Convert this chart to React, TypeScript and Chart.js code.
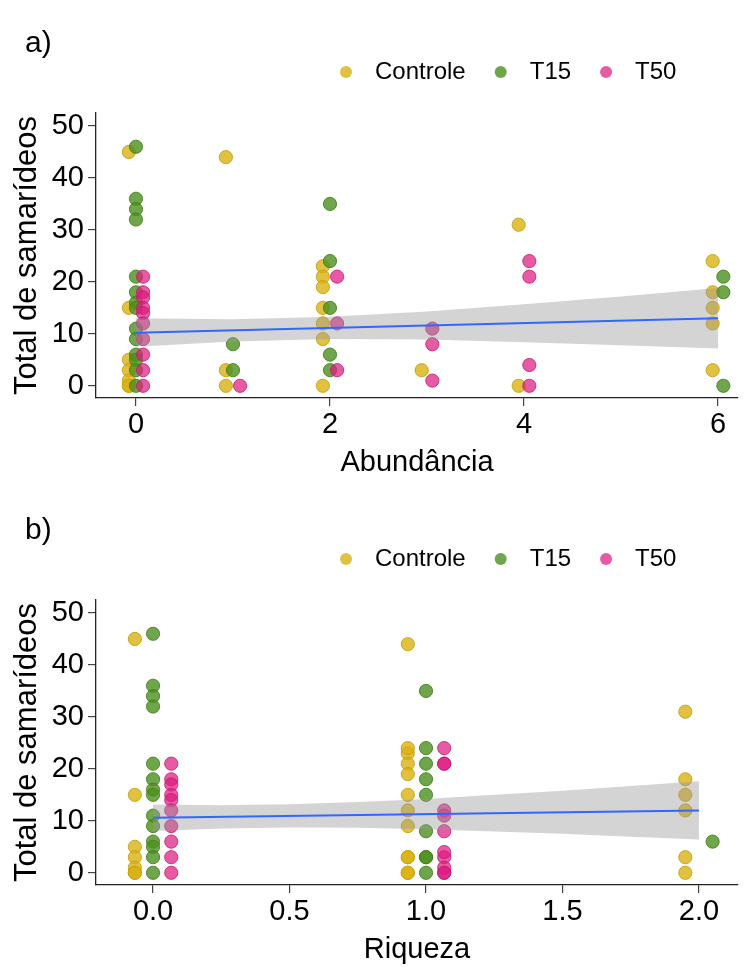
import React, { useEffect, useRef } from "react";
import { Chart, registerables } from "chart.js";

Chart.register(...registerables);

const FONT = "'Liberation Sans', Arial, Helvetica, sans-serif";

// ---------------- data ----------------
const treatments = ["Controle", "T15", "T50"];
const pointColors = ["rgba(218,178,18,0.8)", "rgba(76,144,30,0.8)", "rgba(220,28,128,0.72)"];
const pointBorders = ["rgba(198,158,10,0.85)", "rgba(62,126,22,0.85)", "rgba(198,22,112,0.8)"];

const controleAbundancia = [0, 0, 0, 0, 0, 0, 0, 1, 1, 1, 2, 2, 2, 2, 2, 2, 2, 3, 4, 4, 6, 6, 6, 6, 6];
const controleRiqueza = [0, 0, 0, 0, 0, 0, 0, 1, 1, 1, 1, 1, 1, 1, 1, 1, 1, 1, 2, 2, 1, 2, 2, 2, 2];
const controleTotal = [45, 15, 5, 3, 1, 0, 0, 44, 3, 0, 23, 21, 19, 15, 12, 9, 0, 3, 31, 0, 24, 18, 15, 12, 3];

const t15Abundancia = [0, 0, 0, 0, 0, 0, 0, 0, 0, 0, 0, 0, 0, 0, 1, 1, 2, 2, 2, 2, 2, 6, 6, 6];
const t15Riqueza = [0, 0, 0, 0, 0, 0, 0, 0, 0, 0, 0, 0, 0, 0, 1, 1, 1, 1, 1, 1, 2, 1, 1, 1];
const t15Total = [46, 36, 34, 32, 21, 18, 16, 15, 11, 9, 6, 5, 3, 0, 8, 3, 35, 24, 15, 3, 6, 21, 18, 0];

const t50Abundancia = [0, 0, 0, 0, 0, 0, 0, 0, 0, 0, 1, 2, 2, 2, 3, 3, 3, 4, 4, 4, 4];
const t50Riqueza = [0, 0, 0, 0, 0, 0, 0, 0, 0, 0, 1, 1, 1, 1, 1, 1, 1, 1, 1, 1, 1];
const t50Total = [21, 18, 17, 15, 14, 12, 9, 6, 3, 0, 0, 21, 12, 3, 11, 8, 1, 24, 21, 4, 0];

const totalTicks = [0, 10, 20, 30, 40, 50];
const abundanciaTicks = [0, 2, 4, 6];
const abundanciaTickLabels = ["0", "2", "4", "6"];
const riquezaTicks = [0, 0.5, 1, 1.5, 2];
const riquezaTickLabels = ["0.0", "0.5", "1.0", "1.5", "2.0"];

// fitted line + confidence band
const fitAbundanciaX = [0, 6];
const fitAbundanciaY = [10.2, 13.0];
const bandAbundanciaX = [0, 1, 2, 3, 4, 5, 6];
const bandAbundanciaUpper = [13.0, 12.8, 13.3, 14.3, 15.7, 17.2, 18.8];
const bandAbundanciaLower = [7.5, 8.5, 9.0, 8.9, 8.4, 7.8, 7.2];

const fitRiquezaX = [0, 2];
const fitRiquezaY = [10.6, 12.0];
const bandRiquezaX = [0, 0.25, 0.5, 0.75, 1, 1.25, 1.5, 1.75, 2];
const bandRiquezaUpper = [13.15, 13.0, 13.2, 13.6, 14.2, 15.0, 15.8, 16.7, 17.6];
const bandRiquezaLower = [8.05, 8.5, 8.7, 8.65, 8.4, 7.95, 7.5, 6.95, 6.4];

// ---------------- helpers ----------------
function dodge(groupsX: number[][], width: number): number[][] {
  const present = new Map<number, number[]>();
  groupsX.forEach((xs, g) =>
    xs.forEach((x) => {
      const arr = present.get(x) || [];
      if (!arr.includes(g)) arr.push(g);
      present.set(x, arr);
    })
  );
  return groupsX.map((xs, g) =>
    xs.map((x) => {
      const gs = (present.get(x) || [g]).slice().sort((a, b) => a - b);
      const n = gs.length;
      const i = gs.indexOf(g);
      return x - width / 2 + (width / n) * (i + 0.5);
    })
  );
}

const decorPlugin = {
  id: "panelDecor",
  afterDraw(chart: any, _args: any, opts: any) {
    const ctx = chart.ctx;
    ctx.save();
    ctx.fillStyle = "#000";
    ctx.textBaseline = "middle";
    ctx.textAlign = "left";
    ctx.font = `30px ${FONT}`;
    ctx.fillText(opts.label, 25, 44);
    ctx.font = `24px ${FONT}`;
    let x = 346;
    const y = 72;
    treatments.forEach((t, i) => {
      ctx.beginPath();
      ctx.arc(x, y, 6, 0, Math.PI * 2);
      ctx.fillStyle = pointColors[i];
      ctx.fill();
      ctx.fillStyle = "#000";
      ctx.fillText(t, x + 29, y);
      x += 29 + ctx.measureText(t).width + 35;
    });
    ctx.restore();
  },
};

type PanelSpec = {
  label: string;
  xs: number[][];
  dodgeWidth: number;
  xMin: number;
  xMax: number;
  xTicks: number[];
  xTickLabels: string[];
  xTitle: string;
  fitX: number[];
  fitY: number[];
  bandX: number[];
  bandUpper: number[];
  bandLower: number[];
};

const totals = [controleTotal, t15Total, t50Total];

function makeConfig(p: PanelSpec): any {
  const dx = dodge(p.xs, p.dodgeWidth);
  const pointSets = treatments.map((t, g) => ({
    type: "scatter",
    label: t,
    data: dx[g].map((x, i) => ({ x, y: totals[g][i] })),
    backgroundColor: pointColors[g],
    borderColor: pointBorders[g],
    borderWidth: 1,
    pointRadius: 6.6,
    order: 4 - g,
  }));
  return {
    type: "scatter",
    data: {
      datasets: [
        ...pointSets,
        {
          type: "line",
          label: "ic_sup",
          data: p.bandX.map((x, i) => ({ x, y: p.bandUpper[i] })),
          borderColor: "transparent",
          borderWidth: 0,
          pointRadius: 0,
          fill: "+1",
          backgroundColor: "rgba(153,153,153,0.42)",
          tension: 0,
          order: 1,
        },
        {
          type: "line",
          label: "ic_inf",
          data: p.bandX.map((x, i) => ({ x, y: p.bandLower[i] })),
          borderColor: "transparent",
          borderWidth: 0,
          pointRadius: 0,
          fill: false,
          tension: 0,
          order: 1,
        },
        {
          type: "line",
          label: "ajuste",
          data: p.fitX.map((x, i) => ({ x, y: p.fitY[i] })),
          borderColor: "#3366FF",
          borderWidth: 2,
          pointRadius: 0,
          fill: false,
          tension: 0,
          order: 0,
        },
      ],
    },
    options: {
      animation: false,
      responsive: false,
      devicePixelRatio: 1,
      events: [],
      layout: { padding: { top: 113, right: 9, left: 0, bottom: 0 } },
      plugins: {
        legend: { display: false },
        title: { display: false },
        tooltip: { enabled: false },
        panelDecor: { label: p.label },
      },
      scales: {
        x: {
          type: "linear",
          min: p.xMin,
          max: p.xMax,
          afterBuildTicks: (s: any) => {
            s.ticks = p.xTicks.map((v) => ({ value: v }));
          },
          afterFit: (s: any) => {
            s.height = 82;
          },
          ticks: {
            font: { size: 29, family: FONT },
            color: "#000",
            padding: 2,
            maxRotation: 0,
            autoSkip: false,
            callback: (_v: any, i: number) => p.xTickLabels[i],
          },
          grid: {
            display: true,
            drawOnChartArea: false,
            drawTicks: true,
            tickLength: 8,
            color: "#444",
            lineWidth: 1.2,
          },
          border: { display: true, color: "#222", width: 1.3 },
          title: {
            display: true,
            text: p.xTitle,
            font: { size: 29, family: FONT, lineHeight: 1.2 },
            color: "#000",
            padding: { top: 0, bottom: 0 },
          },
        },
        y: {
          type: "linear",
          min: -2.35,
          max: 52.5,
          afterBuildTicks: (s: any) => {
            s.ticks = totalTicks.map((v) => ({ value: v }));
          },
          afterFit: (s: any) => {
            s.width = 96;
          },
          ticks: {
            font: { size: 29, family: FONT },
            color: "#000",
            padding: 4,
            autoSkip: false,
          },
          grid: {
            display: true,
            drawOnChartArea: false,
            drawTicks: true,
            tickLength: 8,
            color: "#444",
            lineWidth: 1.2,
          },
          border: { display: true, color: "#222", width: 1.3 },
          title: {
            display: true,
            text: "Total de samarídeos",
            font: { size: 31, family: FONT, lineHeight: 1.2 },
            color: "#000",
            padding: { top: 9, bottom: 0 },
          },
        },
      },
    },
    plugins: [decorPlugin],
  };
}

const panelA: PanelSpec = {
  label: "a)",
  xs: [controleAbundancia, t15Abundancia, t50Abundancia],
  dodgeWidth: 0.22,
  xMin: -0.412,
  xMax: 6.206,
  xTicks: abundanciaTicks,
  xTickLabels: abundanciaTickLabels,
  xTitle: "Abundância",
  fitX: fitAbundanciaX,
  fitY: fitAbundanciaY,
  bandX: bandAbundanciaX,
  bandUpper: bandAbundanciaUpper,
  bandLower: bandAbundanciaLower,
};

const panelB: PanelSpec = {
  label: "b)",
  xs: [controleRiqueza, t15Riqueza, t50Riqueza],
  dodgeWidth: 0.2,
  xMin: -0.209,
  xMax: 2.143,
  xTicks: riquezaTicks,
  xTickLabels: riquezaTickLabels,
  xTitle: "Riqueza",
  fitX: fitRiquezaX,
  fitY: fitRiquezaY,
  bandX: bandRiquezaX,
  bandUpper: bandRiquezaUpper,
  bandLower: bandRiquezaLower,
};

function Panel({ spec, top }: { spec: PanelSpec; top: number }) {
  const ref = useRef<HTMLCanvasElement | null>(null);
  useEffect(() => {
    if (!ref.current) return;
    const chart = new Chart(ref.current, makeConfig(spec));
    return () => chart.destroy();
  }, [spec]);
  return (
    <canvas
      ref={ref}
      width={747}
      height={480}
      style={{ position: "absolute", left: 0, top, width: 747, height: 480 }}
    />
  );
}

export default function App() {
  return (
    <div
      style={{
        position: "absolute",
        left: 0,
        top: 0,
        width: 747,
        height: 967,
        background: "#fff",
        overflow: "hidden",
      }}
    >
      <Panel spec={panelA} top={0} />
      <Panel spec={panelB} top={487} />
    </div>
  );
}
